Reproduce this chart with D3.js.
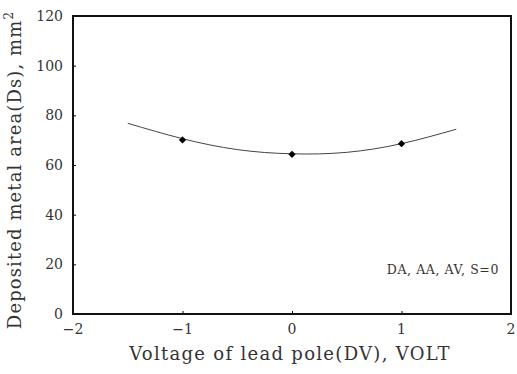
<html>
    <head>
        <style>
            body{ margin: 0; background: #fff; }
            text{ font-family: "DejaVu Serif", "Liberation Serif", serif; fill: #333; }
        </style>
    </head>
    <body>
        <svg id="container" height="374" width="517"></svg>
    </body>
    <script src="https://d3js.org/d3.v7.min.js" charset="utf-8"></script>
    <script>
        // measured points
        let voltage = [-1, 0, 1]
        let area = [70.1, 64.3, 68.6]
        // trend curve
        let curveX = [-1.5, -1, -0.5, 0, 0.5, 1, 1.5]
        let curveY = [76.8, 70.6, 66.2, 64.5, 65.1, 68.6, 74.4]
        let xTicks = [-2, -1, 0, 1, 2]
        let yTicks = [0, 20, 40, 60, 80, 100, 120]

        let svg = d3.select("#container")
        let plotL = 73, plotR = 511, plotT = 16, plotB = 314

        let x = d3.scaleLinear().domain([-2, 2]).range([plotL, plotR])
        let y = d3.scaleLinear().domain([0, 120]).range([plotB, plotT])

        // tiny inward ticks
        svg.append("g")
            .attr("transform", `translate(0,${plotB})`)
            .call(d3.axisTop(x).tickValues(xTicks.slice(1, -1)).tickSize(3).tickFormat(""))
            .call(g => g.select(".domain").remove())
        svg.append("g")
            .attr("transform", `translate(${plotL},0)`)
            .call(d3.axisRight(y).tickValues(yTicks.slice(1, -1)).tickSize(3).tickFormat(""))
            .call(g => g.select(".domain").remove())

        svg.append("rect")
            .attr("x", plotL).attr("y", plotT)
            .attr("width", plotR - plotL).attr("height", plotB - plotT)
            .attr("fill", "none").attr("stroke", "#111").attr("stroke-width", 2)

        // tick labels
        svg.selectAll(".xl").data(xTicks).enter().append("text")
            .attr("x", d => x(d)).attr("y", plotB + 20)
            .attr("text-anchor", "middle").attr("font-size", 14)
            .text(d => d < 0 ? "\u2212" + Math.abs(d) : d)
        svg.selectAll(".yl").data(yTicks).enter().append("text")
            .attr("x", plotL - 10).attr("y", d => y(d) + 5)
            .attr("text-anchor", "end").attr("font-size", 14)
            .text(d => d)

        // trend curve
        let line = d3.line()
            .x((d, i) => x(curveX[i]))
            .y(d => y(d))
            .curve(d3.curveNatural)
        svg.append("path")
            .attr("d", line(curveY))
            .attr("fill", "none").attr("stroke", "#444").attr("stroke-width", 1)

        // markers
        svg.selectAll(".pt").data(area).enter().append("path")
            .attr("d", d3.symbol(d3.symbolSquare, 26))
            .attr("transform", (d, i) => `translate(${x(voltage[i])},${y(d)}) rotate(45)`)
            .attr("fill", "#000")

        // annotation
        svg.append("text")
            .attr("x", 499).attr("y", 274)
            .attr("text-anchor", "end").attr("font-size", 12.5)
            .attr("letter-spacing", 0.6)
            .text("DA, AA, AV, S=0")

        // axis titles
        svg.append("text")
            .attr("x", (plotL + plotR) / 2 - 2).attr("y", 360)
            .attr("text-anchor", "middle").attr("font-size", 18)
            .attr("letter-spacing", 1.3)
            .text("Voltage of lead pole(DV), VOLT")

        let yt = svg.append("text")
            .attr("transform", `translate(21,${(plotT + plotB) / 2 + 5}) rotate(-90)`)
            .attr("text-anchor", "middle").attr("font-size", 18)
            .attr("letter-spacing", 1.1)
        yt.append("tspan").text("Deposited metal area(Ds), mm")
        yt.append("tspan").attr("font-size", 12).attr("dy", -8).text("2")
    </script>
</html>
